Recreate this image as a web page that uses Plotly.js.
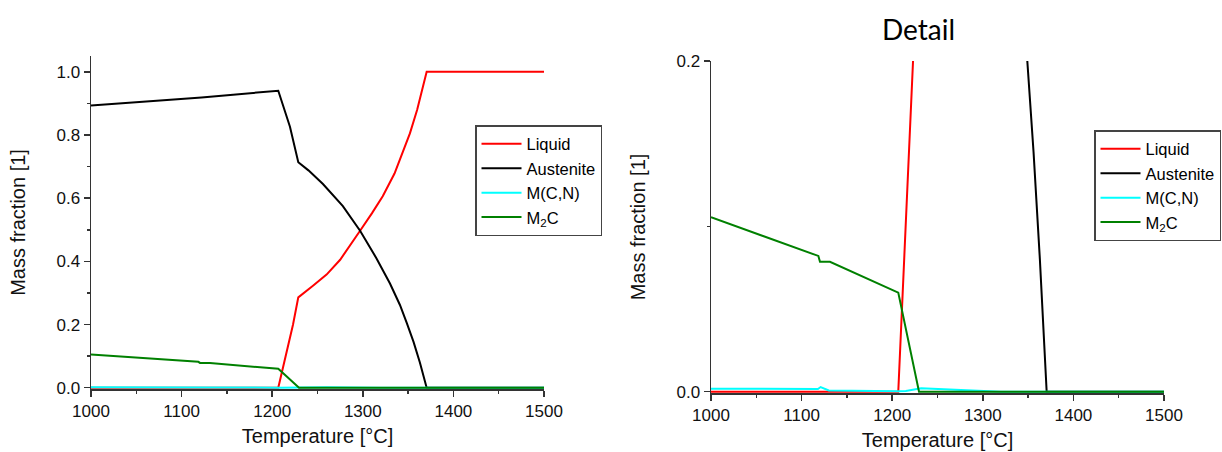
<!DOCTYPE html>
<html>
<head>
<meta charset="utf-8">
<script src="https://cdn.plot.ly/plotly-3.0.1.min.js"></script>
<style>html,body{margin:0;padding:0;background:#fff;}#chart{width:1222px;height:452px;}</style>
</head>
<body>
<div id="chart"></div>
<script>
// ---- data ----
const seriesNames = ["Liquid", "Austenite", "M(C,N)", "M<sub>2</sub>C"];
const seriesColors = ["#ff0000", "#000000", "#00ffff", "#008000"];

const liquidT = [1000, 1206.7, 1223, 1228.8, 1245, 1260, 1275, 1290, 1297, 1310, 1322, 1335, 1343, 1352, 1360, 1366, 1370.5, 1500];
const liquidF = [0, 0, 0.2, 0.286, 0.323, 0.358, 0.405, 0.465, 0.497, 0.552, 0.606, 0.678, 0.735, 0.805, 0.88, 0.945, 1.0, 1.0];

const austeniteT = [1000, 1118, 1122, 1206.7, 1219.6, 1228.8, 1240, 1256, 1278, 1297, 1315, 1330, 1341, 1348.5, 1356, 1363, 1370.5, 1500];
const austeniteF = [0.893, 0.916, 0.919, 0.940, 0.826, 0.714, 0.688, 0.645, 0.575, 0.497, 0.41, 0.33, 0.262, 0.205, 0.145, 0.08, 0, 0];

const mcnT = [1000, 1118, 1121, 1130, 1206.7, 1215, 1232, 1260, 1320, 1500];
const mcnF = [0.0018, 0.0016, 0.0028, 0.0007, 0.0002, 0.0004, 0.002, 0.0013, 0, 0];

const m2cT = [1000, 1060, 1118.5, 1120.3, 1131.3, 1206.7, 1229.6, 1500];
const m2cF = [0.1055, 0.0937, 0.0821, 0.0786, 0.0786, 0.0599, 0, 0];

const xTickVals = [1000, 1100, 1200, 1300, 1400, 1500];
const detailTitle = "Detail";
const xTitle = "Temperature [°C]";
const yTitle = "Mass fraction [1]";

// ---- figure ----
const W = 1222, H = 452;
const FONT = "Liberation Sans, Arial, Helvetica, sans-serif";
const allT = [liquidT, austeniteT, mcnT, m2cT];
const allF = [liquidF, austeniteF, mcnF, m2cF];

const traces = [];
[["x", "y", "legend"], ["x2", "y2", "legend2"]].forEach(([xa, ya, lg]) => {
  for (let i = 0; i < 4; i++) {
    traces.push({
      type: "scatter", mode: "lines",
      x: allT[i], y: allF[i], name: seriesNames[i],
      xaxis: xa, yaxis: ya, legend: lg,
      line: {color: seriesColors[i], width: 2},
      hoverinfo: "skip"
    });
  }
});

function px(x) { return x / W; }
function py(y) { return (H - y) / H; }

const axisCommon = {
  showline: true, linecolor: "#333", linewidth: 1.5,
  showgrid: false, zeroline: false,
  ticks: "outside", ticklen: 6, tickwidth: 1.5, tickcolor: "#333",
  tickfont: {family: FONT, size: 17, color: "#111"},
  mirror: false
};
const minorCommon = {ticks: "outside", ticklen: 3, tickwidth: 1.5, tickcolor: "#333"};
const titleFont = {family: FONT, size: 20, color: "#111"};
const legendCommon = {
  bgcolor: "#fff", bordercolor: "#444", borderwidth: 1.5,
  font: {family: FONT, size: 16.5, color: "#000"},
  xanchor: "left", yanchor: "top", tracegroupgap: 0, itemwidth: 40
};

const layout = {
  width: W, height: H,
  margin: {l: 0, r: 0, t: 0, b: 0},
  paper_bgcolor: "#fff", plot_bgcolor: "#fff",
  showlegend: true,
  xaxis: Object.assign({}, axisCommon, {
    domain: [px(91), px(544)], range: [1000, 1500], anchor: "y",
    tickvals: xTickVals,
    minor: Object.assign({dtick: 50}, minorCommon),
    title: {text: xTitle, font: titleFont, standoff: 9}
  }),
  yaxis: Object.assign({}, axisCommon, {
    domain: [py(389), py(56)], range: [-0.004, 1.05], anchor: "x",
    tick0: 0, dtick: 0.2, tickformat: ".1f",
    minor: Object.assign({dtick: 0.1}, minorCommon),
    title: {text: yTitle, font: titleFont, standoff: 25}
  }),
  xaxis2: Object.assign({}, axisCommon, {
    domain: [px(711), px(1164)], range: [1000, 1500], anchor: "y2",
    tickvals: xTickVals,
    minor: Object.assign({dtick: 50}, minorCommon),
    title: {text: xTitle, font: titleFont, standoff: 9}
  }),
  yaxis2: Object.assign({}, axisCommon, {
    domain: [py(393), py(61)], range: [-0.0008, 0.2], anchor: "x2",
    tick0: 0, dtick: 0.2, tickformat: ".1f",
    minor: Object.assign({dtick: 0.1}, minorCommon),
    title: {text: yTitle, font: titleFont, standoff: 25}
  }),
  legend: Object.assign({}, legendCommon, {x: px(475), y: py(125)}),
  legend2: Object.assign({}, legendCommon, {x: px(1094), y: py(130)}),
  annotations: [{
    text: detailTitle, xref: "paper", yref: "paper",
    x: px(918.5), y: py(29), xanchor: "center", yanchor: "middle",
    showarrow: false, font: {family: "Lato, Open Sans, sans-serif", size: 28, color: "#000"}
  }]
};

Plotly.newPlot("chart", traces, layout, {staticPlot: true, displayModeBar: false});
</script>
</body>
</html>
